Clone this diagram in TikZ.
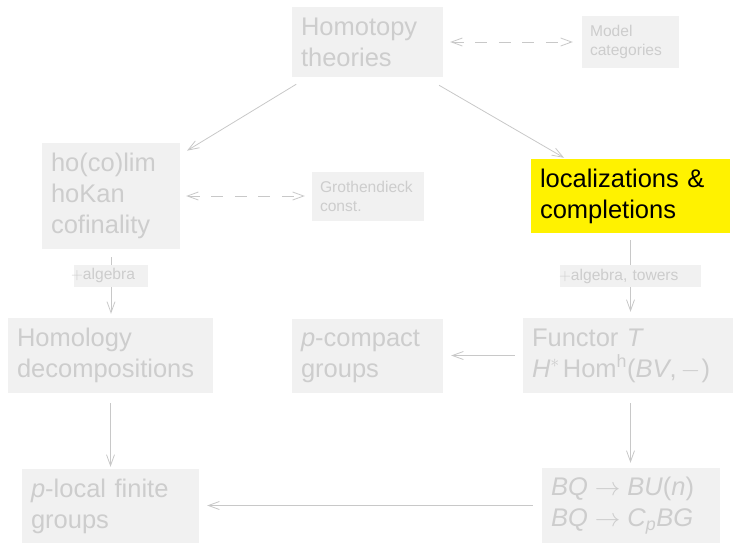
\RequirePackage{fix-cm}
\documentclass[tikz,border=0pt]{standalone}
\usepackage{fontspec}
\setmainfont{Liberation Sans}
\usetikzlibrary{arrows.meta}

\definecolor{boxgray}{RGB}{241,241,241}
\definecolor{txtgray}{RGB}{205,205,205}
\definecolor{linegray}{RGB}{200,200,200}
\definecolor{hiyellow}{RGB}{255,242,0}

\newcommand\fsbig{\fontsize{25.5pt}{31pt}\selectfont}
\newcommand\fssmall{\fontsize{15.6pt}{18.5pt}\selectfont}
\newcommand\fslab{\fontsize{15.6pt}{18.5pt}\selectfont}
% map arrow with relation-like spacing
\newcommand\mapto{\hspace{7pt}$\rightarrow$\hspace{7pt}}

\begin{document}
\begin{tikzpicture}[x=1pt,y=-1pt,
  box/.style={fill=boxgray, text=txtgray, font=\fsbig, inner xsep=9pt,
    inner ysep=0pt, align=left},
  smallbox/.style={box, font=\fssmall, inner xsep=8pt},
  hilite/.style={box, fill=hiyellow, text=black},
  lab/.style={fill=boxgray, text=txtgray, font=\fslab, inner xsep=0pt,
    inner ysep=0pt, minimum height=22pt, align=left},
  arr/.style={draw=linegray, line width=0.8pt,
    -{Straight Barb[length=11pt,width=8pt]}},
  darr/.style={arr, dash pattern=on 12pt off 11.5pt,
    {Straight Barb[length=11pt,width=8pt]}-{Straight Barb[length=11pt,width=8pt]}},
]
\useasboundingbox (0,0) rectangle (733,542);

% top row
\node[box, minimum height=70pt, text width=133pt] (H) at (367.5,42)
  {Homotopy\\theories};
\node[smallbox, minimum height=52pt, text width=81pt] (Model) at (630.5,42)
  {Model\\categories};

% second row
\node[box, minimum height=106pt, text width=120pt] (ho) at (111,196)
  {ho(co)lim\\hoKan\\cofinality};
\node[smallbox, minimum height=49pt, text width=96pt] (Groth) at (368,196.5)
  {Grothendieck\\const.};
\node[hilite, minimum height=74pt, text width=181pt] (loc) at (630.5,196)
  {localizations \&\\completions};

% third row
\node[box, minimum height=75pt, text width=187pt] (Homol) at (110.5,355.5)
  {Homology\\decompositions};
\node[box, minimum height=74pt, text width=133pt] (pcomp) at (367.5,356)
  {\textit{p}-compact\\groups};
\node[box, minimum height=75pt, text width=197pt] (Functor) at (630.5,355.5)
  {Functor \textit{T}\\\textit{H}$^{*}$\kern3pt Hom\textsuperscript{h}(\textit{BV},\kern4pt$-$\kern1pt)};

% bottom row
\node[box, minimum height=75pt, text width=160pt] (BQ) at (631,505.5)
  {\textit{BQ}\mapto\textit{BU}(\textit{n})\\\textit{BQ}\mapto\textit{C}\textsubscript{\textit{p}}\textit{BG}};
\node[box, minimum height=74pt, text width=159pt] (plocal) at (110.5,506)
  {\textit{p}-local finite\\groups};

% connectors
\draw[arr, shorten <=13.5pt, shorten >=8pt]
  ([xshift=16pt]H.south west) -- ([yshift=-12pt]ho.north east);
\draw[arr, shorten <=16pt, shorten >=2pt]
  ([xshift=-18pt]H.south east) -- ([xshift=35pt]loc.north west);
\draw[darr, shorten <=7pt, shorten >=9pt] (H.east) -- (Model.west);
\draw[darr, shorten <=6pt, shorten >=7pt] (ho.east) -- (ho.east -| Groth.west);

\draw[arr, shorten <=8pt, shorten >=4pt] (ho.south) -- (ho.south |- Homol.north)
  node[lab, pos=0.39, text width=74pt] (labA) {\hspace*{-2.9pt}$+$algebra};
\draw[arr, shorten <=7pt, shorten >=6pt] (loc.south) -- (loc.south |- Functor.north)
  node[lab, pos=0.506, text width=141pt] (labB) {\hspace*{-0.9pt}$+$algebra, towers};

\draw[arr, shorten <=8pt, shorten >=8pt] (Functor.west) -- (Functor.west -| pcomp.east);
\draw[arr, shorten <=10pt, shorten >=2pt] (Homol.south) -- (Homol.south |- plocal.north);
\draw[arr, shorten <=10pt, shorten >=5pt] (Functor.south) -- (Functor.south |- BQ.north);
\draw[arr, shorten <=9pt, shorten >=8pt] (BQ.west) -- (BQ.west -| plocal.east);
\end{tikzpicture}
\end{document}
